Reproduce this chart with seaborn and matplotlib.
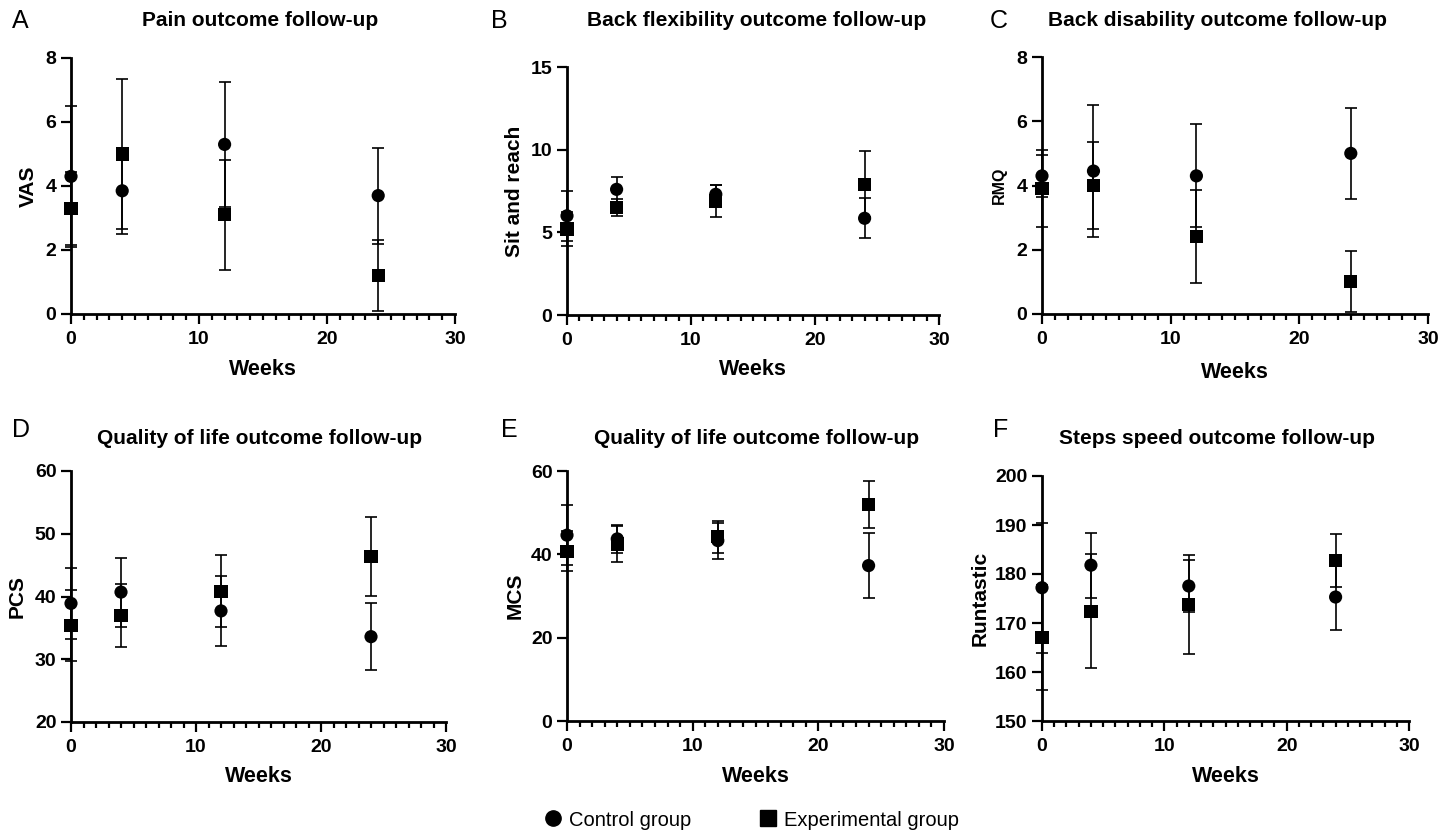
import numpy as np
import pandas as pd
import matplotlib
matplotlib.use("Agg")
import matplotlib.pyplot as plt
from matplotlib.lines import Line2D
from matplotlib.ticker import MultipleLocator
import seaborn as sns

sns.set_style("ticks")
plt.rcParams['font.family'] = ['Liberation Sans', 'DejaVu Sans']
plt.rcParams['text.color'] = 'black'
plt.rcParams['axes.labelcolor'] = 'black'
plt.rcParams['xtick.color'] = 'black'
plt.rcParams['ytick.color'] = 'black'

weeks = [0, 4, 12, 24]

# Panel A: VAS
vas_ctrl = [4.3, 3.85, 5.3, 3.7]
vas_ctrl_sd = [2.2, 1.35, 1.95, 1.5]
vas_exp = [3.3, 5.0, 3.1, 1.2]
vas_exp_sd = [1.15, 2.35, 1.72, 1.1]

# Panel B: Sit and reach
sr_ctrl = [6.0, 7.6, 7.3, 5.85]
sr_ctrl_sd = [1.5, 0.75, 0.55, 1.2]
sr_exp = [5.2, 6.5, 6.9, 7.9]
sr_exp_sd = [1.0, 0.5, 0.95, 2.0]

# Panel C: RMQ
rmq_ctrl = [4.3, 4.45, 4.3, 5.0]
rmq_ctrl_sd = [0.65, 2.05, 1.6, 1.42]
rmq_exp = [3.9, 4.0, 2.4, 1.0]
rmq_exp_sd = [1.2, 1.35, 1.45, 0.95]

# Panel D: PCS
pcs_ctrl = [38.9, 40.7, 37.7, 33.6]
pcs_ctrl_sd = [5.7, 5.5, 5.55, 5.3]
pcs_exp = [35.4, 37.0, 40.85, 46.4]
pcs_exp_sd = [5.7, 5.0, 5.75, 6.25]

# Panel E: MCS
mcs_ctrl = [44.6, 43.7, 43.3, 37.3]
mcs_ctrl_sd = [7.2, 3.4, 4.3, 7.85]
mcs_exp = [40.7, 42.5, 44.2, 52.0]
mcs_exp_sd = [4.8, 4.4, 3.8, 5.7]

# Panel F: Runtastic
run_ctrl = [177.2, 181.8, 177.55, 175.3]
run_ctrl_sd = [13.3, 6.6, 5.3, 6.7]
run_exp = [167.0, 172.4, 173.8, 182.7]
run_exp_sd = [10.7, 11.6, 10.1, 5.4]

letters = ["A", "B", "C", "D", "E", "F"]
titles = ["Pain outcome follow-up", "Back flexibility outcome follow-up",
          "Back disability outcome follow-up", "Quality of life outcome follow-up",
          "Quality of life outcome follow-up", "Steps speed outcome follow-up"]
ylabels = ["VAS", "Sit and reach", "RMQ", "PCS", "MCS", "Runtastic"]
yticks = [[0, 2, 4, 6, 8], [0, 5, 10, 15], [0, 2, 4, 6, 8],
          [20, 30, 40, 50, 60], [0, 20, 40, 60], [150, 160, 170, 180, 190, 200]]
xticks = [0, 10, 20, 30]
group_names = ["Control group", "Experimental group"]

series = [
    (vas_ctrl, vas_ctrl_sd, vas_exp, vas_exp_sd),
    (sr_ctrl, sr_ctrl_sd, sr_exp, sr_exp_sd),
    (rmq_ctrl, rmq_ctrl_sd, rmq_exp, rmq_exp_sd),
    (pcs_ctrl, pcs_ctrl_sd, pcs_exp, pcs_exp_sd),
    (mcs_ctrl, mcs_ctrl_sd, mcs_exp, mcs_exp_sd),
    (run_ctrl, run_ctrl_sd, run_exp, run_exp_sd),
]

W, H = 1452, 833
fig = plt.figure(figsize=(W / 100, H / 100), dpi=100)

# layout in pixels: left, right, top, bottom
boxes = [(71, 455, 58, 314), (567, 939, 67, 315), (1042, 1428, 57, 314),
         (71, 446, 471, 722), (567, 944, 471, 721), (1042, 1409, 476, 721)]
title_pos = [(260, 20), (757, 20), (1217, 20), (260, 438), (757, 438), (1217, 438)]
letter_pos = [(12, 21), (491, 21), (990, 21), (12, 430), (501, 430), (993, 430)]
ylab_x = [28, 515, 999, 17, 515, 980]
ylab_size = [15, 15, 11.5, 15, 15, 15]
weeks_y = [370, 370, 372, 777, 777, 777]


def fx(px):
    return px / W


def fy(py):
    return 1 - py / H


for i, (box, (c, csd, e, esd)) in enumerate(zip(boxes, series)):
    l, r, t, b = box
    ax = fig.add_axes([fx(l), fy(b), fx(r) - fx(l), (b - t) / H])
    df = pd.DataFrame({
        "Weeks": weeks + weeks,
        "value": list(c) + list(e),
        "group": [group_names[0]] * len(weeks) + [group_names[1]] * len(weeks),
    })
    ax.errorbar(weeks, c, yerr=csd, fmt="none", ecolor="black", elinewidth=1.2,
                capsize=4.5, capthick=1.2, clip_on=False, zorder=3)
    ax.errorbar(weeks, e, yerr=esd, fmt="none", ecolor="black", elinewidth=1.2,
                capsize=4.5, capthick=1.2, clip_on=False, zorder=3)
    sns.scatterplot(data=df, x="Weeks", y="value", style="group",
                    markers={group_names[0]: "o", group_names[1]: "s"},
                    color="black", s=90, linewidth=0, legend=False, ax=ax,
                    clip_on=False, zorder=4)
    ax.set_xlim(0, 30)
    ax.set_ylim(yticks[i][0], yticks[i][-1])
    ax.set_xticks(xticks)
    ax.set_yticks(yticks[i])
    ax.xaxis.set_minor_locator(MultipleLocator(1))
    ax.tick_params(axis="both", which="major", direction="out", length=7.5, width=1.6,
                   labelsize=14, pad=3, color="black", labelcolor="black")
    ax.tick_params(axis="x", which="major", pad=5)
    ax.tick_params(axis="x", which="minor", direction="out", length=4, width=1.6, color="black")
    for lab in ax.get_xticklabels() + ax.get_yticklabels():
        lab.set_fontweight("bold")
    sns.despine(ax=ax)
    for sp in ["left", "bottom"]:
        ax.spines[sp].set_linewidth(2.0)
        ax.spines[sp].set_color("black")
    ax.set_xlabel("")
    ax.set_ylabel("")
    fig.text(fx((l + r) / 2), fy(weeks_y[i]), "Weeks", ha="center", va="center",
             fontsize=15.5, fontweight="bold", color="black")
    fig.text(fx(ylab_x[i]), fy((t + b) / 2), ylabels[i], ha="center", va="center",
             rotation=90, fontsize=ylab_size[i], fontweight="bold", color="black")
    fig.text(fx(title_pos[i][0]), fy(title_pos[i][1]), titles[i], ha="center",
             va="center", fontsize=15, fontweight="bold", color="black")
    fig.text(fx(letter_pos[i][0]), fy(letter_pos[i][1]), letters[i], ha="left",
             va="center", fontsize=18, color="black")

handles = [Line2D([], [], marker="o", color="black", linestyle="none", markersize=11),
           Line2D([], [], marker="s", color="black", linestyle="none", markersize=11)]
fig.legend(handles, group_names, loc="center", bbox_to_anchor=(fx(751), fy(820)),
           ncol=2, frameon=False, fontsize=14.5, handletextpad=0.3, columnspacing=3.3,
           handlelength=1.0, labelcolor="black")

fig.savefig("out.png", dpi=100)
